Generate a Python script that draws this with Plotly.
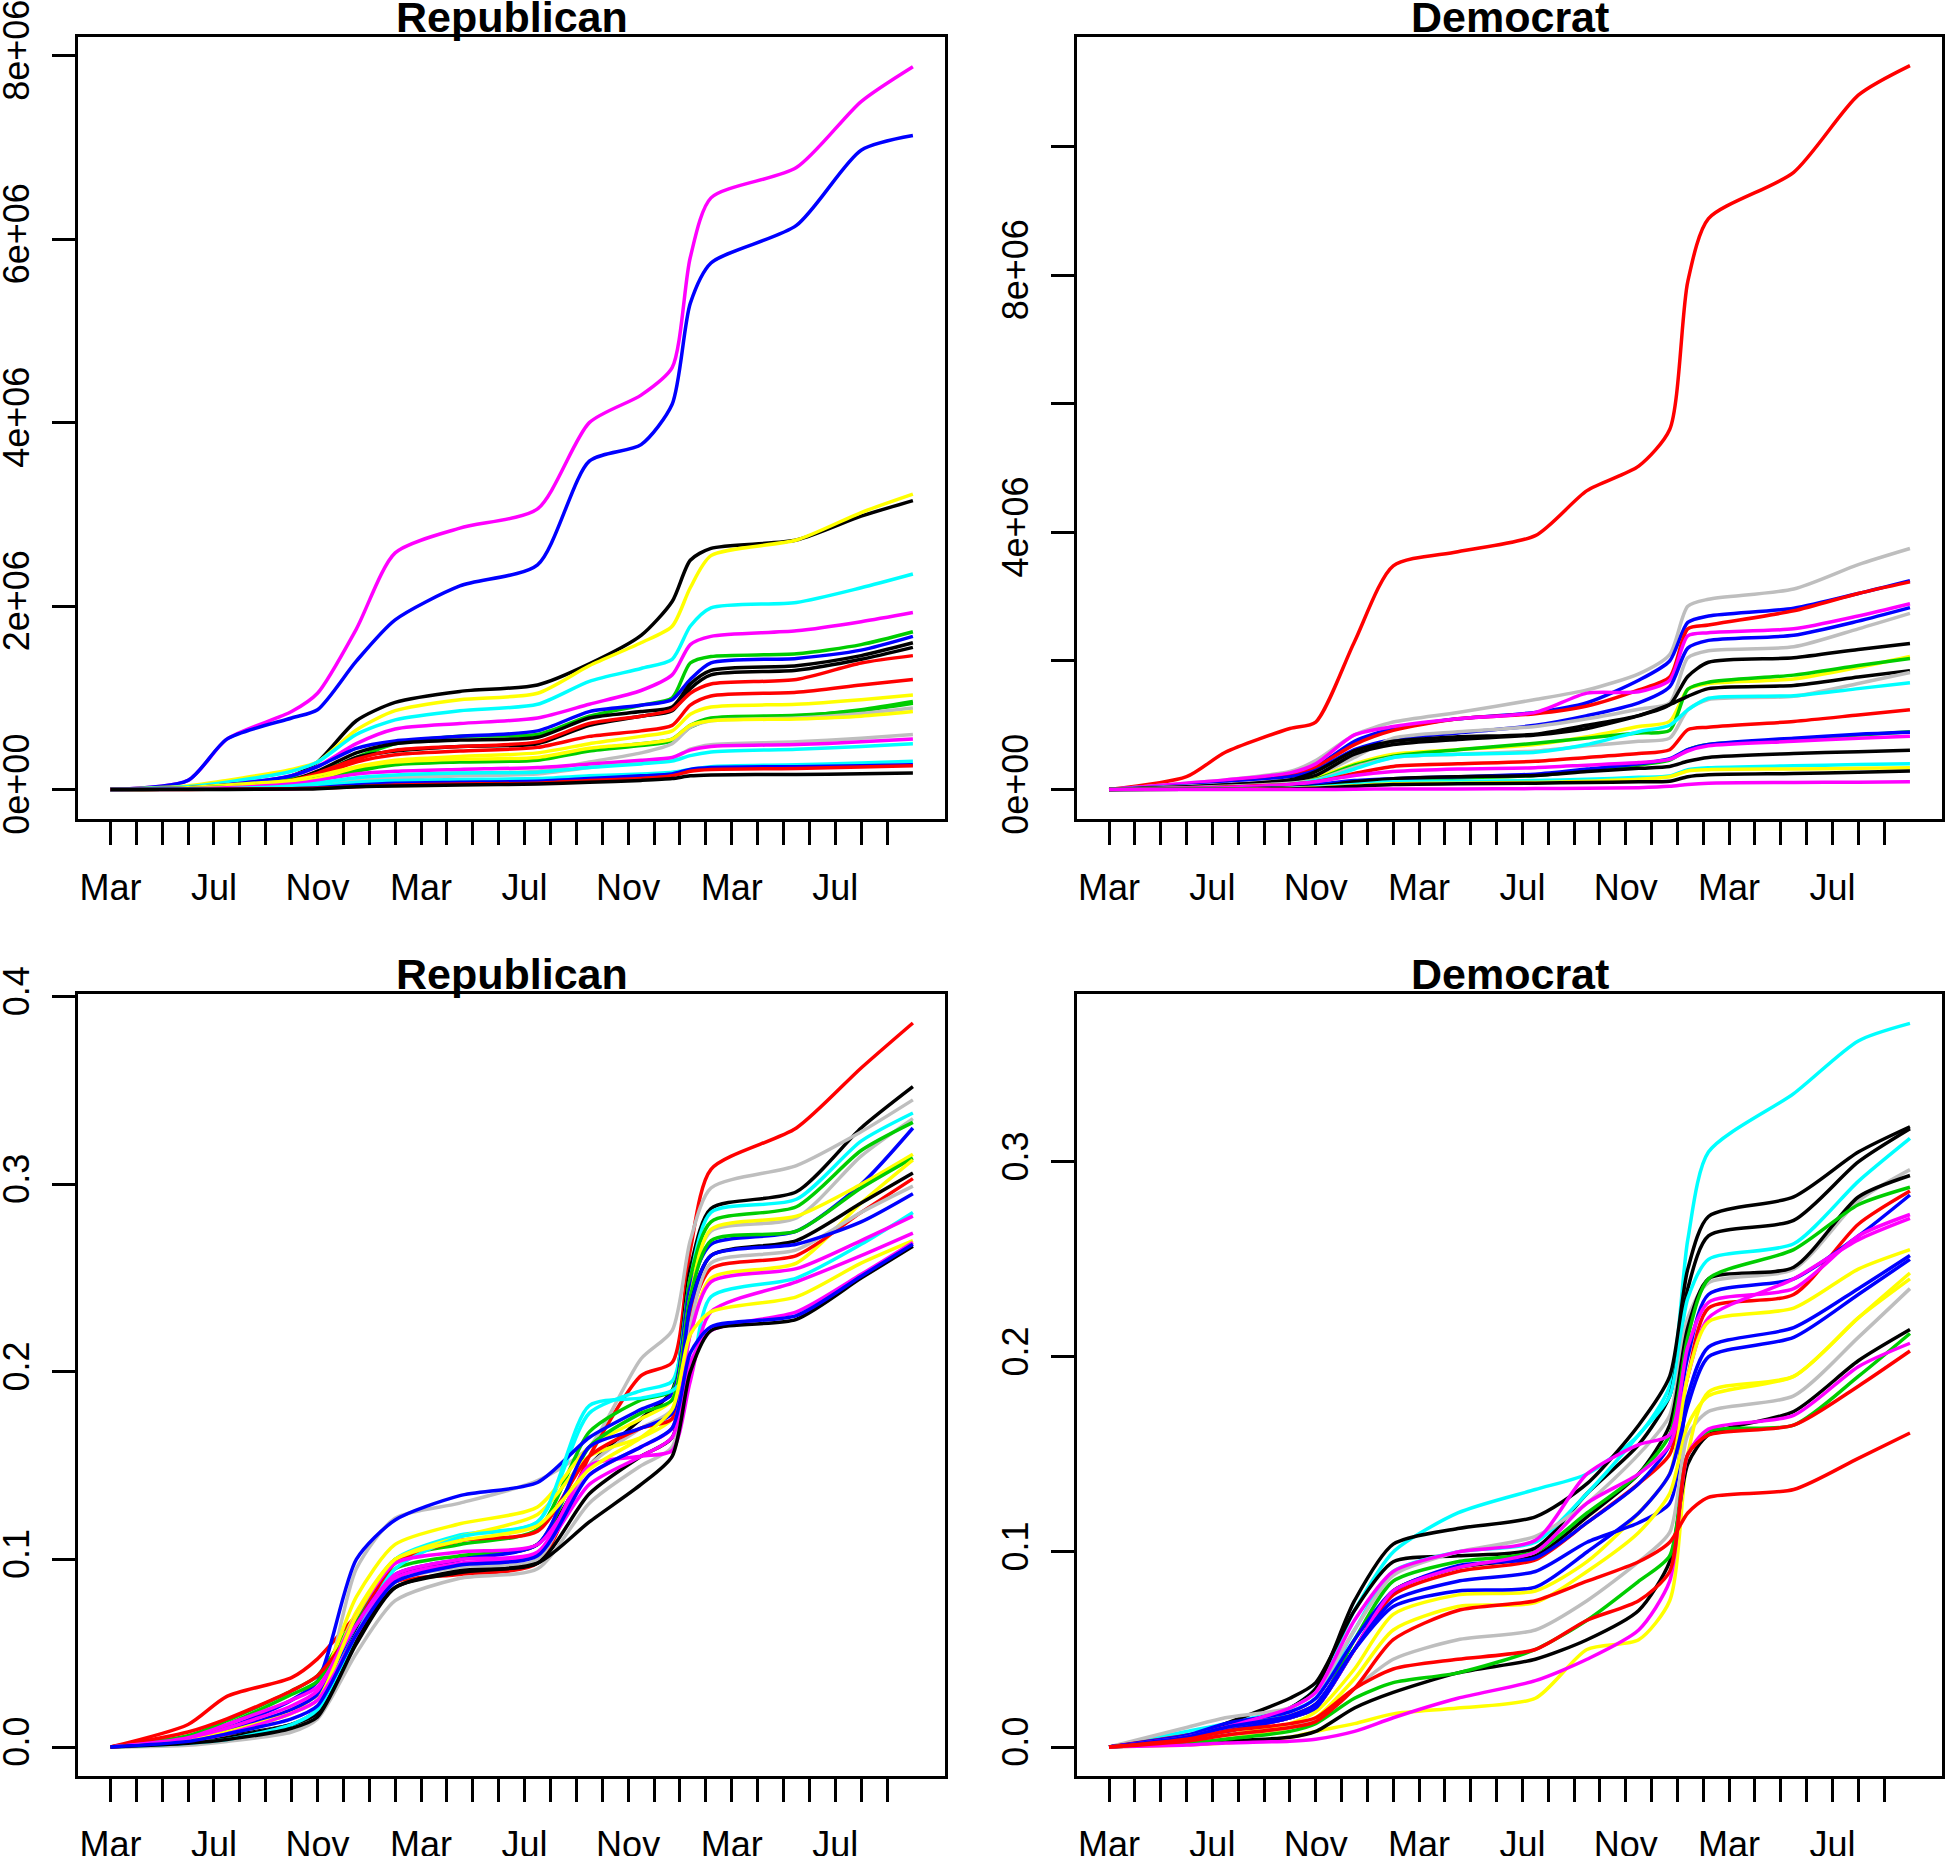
import plotly.graph_objects as go

# ---------------- data ----------------
# knot months counted from 1 March of year 1 (0 = Mar, 4 = Jul, 8 = Nov, ...)
months = [0, 3, 4.5, 7, 8, 9.5, 11, 13.5, 16.5, 18.5, 20.5, 21.7, 22.4, 23.2, 26.5, 29, 31]
tick_months = list(range(31))
tick_names = ["Mar", "", "", "", "Jul", "", "", "", "Nov", "", "", "",
              "Mar", "", "", "", "Jul", "", "", "", "Nov", "", "", "",
              "Mar", "", "", "", "Jul", "", ""]

K, R, G, B, C, M, Y, GR = ("#000000", "#FF0000", "#00CD00", "#0000FF",
                           "#00FFFF", "#FF00FF", "#FFFF00", "#BEBEBE")

# Republican cumulative amounts (millions)
rep_amount_colors = [M, B, K, Y, C, M, G, B, K, K, R, R, Y, G, G, GR, Y, GR, M, C, C, B, R, K]
rep_amount_millions = [
    [0, 0.10, 0.55, 0.85, 1.05, 1.75, 2.58, 2.85, 3.06, 4.00, 4.30, 4.60, 5.80, 6.45, 6.78, 7.50, 7.88],
    [0, 0.10, 0.55, 0.78, 0.87, 1.40, 1.85, 2.22, 2.45, 3.58, 3.76, 4.20, 5.30, 5.74, 6.15, 6.97, 7.13],
    [0, 0.02, 0.05, 0.15, 0.30, 0.75, 0.95, 1.07, 1.14, 1.37, 1.68, 2.05, 2.50, 2.63, 2.72, 2.98, 3.15],
    [0, 0.04, 0.10, 0.22, 0.30, 0.65, 0.86, 0.98, 1.05, 1.35, 1.60, 1.78, 2.20, 2.55, 2.72, 3.02, 3.22],
    [0, 0.03, 0.08, 0.20, 0.30, 0.60, 0.76, 0.86, 0.93, 1.18, 1.32, 1.42, 1.78, 1.98, 2.04, 2.20, 2.35],
    [0, 0.02, 0.05, 0.15, 0.25, 0.50, 0.66, 0.72, 0.78, 0.93, 1.08, 1.25, 1.58, 1.67, 1.73, 1.83, 1.93],
    [0, 0.02, 0.05, 0.12, 0.18, 0.35, 0.50, 0.58, 0.60, 0.80, 0.92, 1.00, 1.38, 1.45, 1.48, 1.58, 1.72],
    [0, 0.02, 0.05, 0.15, 0.25, 0.45, 0.53, 0.58, 0.64, 0.85, 0.92, 0.98, 1.20, 1.38, 1.43, 1.52, 1.67],
    [0, 0.01, 0.03, 0.10, 0.20, 0.40, 0.50, 0.54, 0.57, 0.78, 0.85, 0.90, 1.15, 1.30, 1.35, 1.46, 1.60],
    [0, 0.01, 0.02, 0.08, 0.15, 0.35, 0.42, 0.47, 0.50, 0.70, 0.80, 0.86, 1.10, 1.25, 1.30, 1.42, 1.55],
    [0, 0.01, 0.03, 0.10, 0.18, 0.33, 0.43, 0.47, 0.52, 0.72, 0.80, 0.87, 1.05, 1.15, 1.20, 1.38, 1.46],
    [0, 0.01, 0.02, 0.08, 0.15, 0.30, 0.38, 0.42, 0.46, 0.58, 0.64, 0.70, 0.92, 1.02, 1.06, 1.14, 1.20],
    [0, 0.02, 0.05, 0.10, 0.15, 0.25, 0.32, 0.36, 0.40, 0.50, 0.58, 0.64, 0.82, 0.90, 0.93, 0.98, 1.03],
    [0, 0.01, 0.03, 0.07, 0.12, 0.22, 0.28, 0.32, 0.34, 0.44, 0.50, 0.55, 0.70, 0.78, 0.81, 0.86, 0.94],
    [0, 0.01, 0.02, 0.06, 0.10, 0.20, 0.27, 0.30, 0.32, 0.42, 0.48, 0.53, 0.68, 0.76, 0.80, 0.87, 0.96],
    [0, 0.005, 0.01, 0.03, 0.05, 0.10, 0.15, 0.18, 0.20, 0.30, 0.40, 0.50, 0.68, 0.75, 0.78, 0.83, 0.89],
    [0, 0.01, 0.03, 0.08, 0.12, 0.24, 0.30, 0.33, 0.35, 0.45, 0.50, 0.55, 0.70, 0.75, 0.77, 0.80, 0.85],
    [0, 0.005, 0.01, 0.02, 0.04, 0.08, 0.12, 0.15, 0.17, 0.24, 0.30, 0.34, 0.44, 0.49, 0.52, 0.56, 0.60],
    [0, 0.01, 0.02, 0.06, 0.10, 0.17, 0.20, 0.22, 0.24, 0.28, 0.32, 0.35, 0.43, 0.47, 0.49, 0.52, 0.55],
    [0, 0.005, 0.01, 0.04, 0.07, 0.13, 0.16, 0.18, 0.19, 0.24, 0.28, 0.31, 0.37, 0.41, 0.44, 0.47, 0.50],
    [0, 0.003, 0.01, 0.02, 0.04, 0.08, 0.10, 0.11, 0.12, 0.15, 0.17, 0.19, 0.22, 0.25, 0.27, 0.29, 0.31],
    [0, 0.003, 0.005, 0.01, 0.02, 0.05, 0.07, 0.08, 0.09, 0.12, 0.15, 0.17, 0.22, 0.24, 0.25, 0.26, 0.27],
    [0, 0.002, 0.004, 0.008, 0.015, 0.03, 0.05, 0.06, 0.07, 0.10, 0.12, 0.15, 0.20, 0.22, 0.23, 0.245, 0.26],
    [0, 0.0, 0.002, 0.005, 0.01, 0.03, 0.04, 0.05, 0.06, 0.08, 0.10, 0.12, 0.15, 0.16, 0.165, 0.172, 0.18],
]

# Democrat cumulative amounts (millions)
dem_amount_colors = [R, GR, B, R, M, B, GR, K, Y, G, K, GR, C, R, G, B, M, K, C, Y, K, M]
dem_amount_millions = [
    [0, 0.20, 0.58, 0.95, 1.05, 2.30, 3.48, 3.70, 3.95, 4.65, 5.03, 5.60, 7.90, 8.88, 9.60, 10.80, 11.26],
    [0, 0.10, 0.15, 0.28, 0.45, 0.85, 1.05, 1.20, 1.40, 1.55, 1.80, 2.10, 2.85, 2.96, 3.12, 3.50, 3.75],
    [0, 0.08, 0.12, 0.22, 0.35, 0.75, 0.95, 1.10, 1.20, 1.35, 1.70, 2.00, 2.60, 2.70, 2.82, 3.05, 3.25],
    [0, 0.08, 0.12, 0.22, 0.35, 0.70, 0.92, 1.10, 1.18, 1.30, 1.55, 1.75, 2.50, 2.56, 2.78, 3.05, 3.23],
    [0, 0.10, 0.15, 0.26, 0.40, 0.85, 0.98, 1.10, 1.20, 1.50, 1.52, 1.70, 2.39, 2.44, 2.50, 2.70, 2.89],
    [0, 0.06, 0.10, 0.20, 0.30, 0.62, 0.78, 0.88, 1.00, 1.15, 1.35, 1.60, 2.20, 2.32, 2.40, 2.62, 2.83],
    [0, 0.05, 0.08, 0.15, 0.22, 0.50, 0.80, 0.90, 0.98, 1.10, 1.25, 1.35, 2.05, 2.16, 2.22, 2.50, 2.74],
    [0, 0.04, 0.07, 0.15, 0.28, 0.60, 0.75, 0.82, 0.86, 1.00, 1.15, 1.32, 1.76, 1.98, 2.05, 2.18, 2.27],
    [0, 0.03, 0.05, 0.10, 0.18, 0.40, 0.55, 0.62, 0.70, 0.82, 0.98, 1.06, 1.56, 1.65, 1.72, 1.90, 2.07],
    [0, 0.03, 0.05, 0.10, 0.16, 0.38, 0.52, 0.62, 0.72, 0.80, 0.88, 0.92, 1.56, 1.67, 1.78, 1.93, 2.04],
    [0, 0.04, 0.07, 0.14, 0.22, 0.55, 0.70, 0.78, 0.85, 0.95, 1.15, 1.32, 1.45, 1.57, 1.62, 1.75, 1.85],
    [0, 0.03, 0.05, 0.10, 0.15, 0.35, 0.50, 0.55, 0.60, 0.68, 0.75, 0.80, 1.24, 1.40, 1.45, 1.65, 1.82],
    [0, 0.02, 0.04, 0.08, 0.14, 0.32, 0.50, 0.55, 0.58, 0.70, 0.90, 1.00, 1.24, 1.42, 1.46, 1.57, 1.66],
    [0, 0.02, 0.04, 0.08, 0.12, 0.25, 0.36, 0.40, 0.44, 0.50, 0.56, 0.62, 0.93, 0.97, 1.06, 1.16, 1.24],
    [0, 0.01, 0.02, 0.04, 0.07, 0.12, 0.14, 0.18, 0.22, 0.30, 0.38, 0.46, 0.62, 0.70, 0.78, 0.85, 0.90],
    [0, 0.01, 0.02, 0.05, 0.08, 0.14, 0.17, 0.20, 0.24, 0.32, 0.40, 0.48, 0.62, 0.70, 0.80, 0.86, 0.89],
    [0, 0.02, 0.03, 0.08, 0.12, 0.22, 0.28, 0.32, 0.34, 0.38, 0.42, 0.47, 0.60, 0.68, 0.75, 0.80, 0.83],
    [0, 0.005, 0.01, 0.03, 0.05, 0.12, 0.17, 0.20, 0.22, 0.28, 0.33, 0.36, 0.44, 0.50, 0.56, 0.59, 0.61],
    [0, 0.005, 0.01, 0.02, 0.04, 0.08, 0.12, 0.13, 0.14, 0.16, 0.19, 0.21, 0.31, 0.34, 0.37, 0.39, 0.40],
    [0, 0.003, 0.006, 0.015, 0.03, 0.06, 0.09, 0.10, 0.11, 0.13, 0.16, 0.20, 0.29, 0.31, 0.32, 0.33, 0.34],
    [0, 0.003, 0.005, 0.01, 0.02, 0.05, 0.08, 0.09, 0.10, 0.11, 0.12, 0.13, 0.20, 0.23, 0.25, 0.27, 0.29],
    [0, 0.0, 0.0, 0.0, 0.0, 0.005, 0.01, 0.01, 0.015, 0.02, 0.03, 0.05, 0.08, 0.10, 0.11, 0.115, 0.12],
]

# Republican cumulative share
rep_share_colors = [R, K, GR, C, GR, G, B, Y, G, Y, K, R, GR, B, C, M, M, Y, M, K, B]
rep_share = [
    [0, 0.012, 0.027, 0.037, 0.047, 0.070, 0.088, 0.092, 0.098, 0.155, 0.198, 0.205, 0.265, 0.308, 0.330, 0.362, 0.386],
    [0, 0.003, 0.006, 0.012, 0.020, 0.062, 0.090, 0.100, 0.108, 0.150, 0.175, 0.190, 0.255, 0.287, 0.296, 0.330, 0.352],
    [0, 0.002, 0.005, 0.010, 0.020, 0.095, 0.122, 0.130, 0.142, 0.160, 0.207, 0.222, 0.270, 0.298, 0.310, 0.328, 0.345],
    [0, 0.003, 0.008, 0.020, 0.028, 0.065, 0.100, 0.113, 0.120, 0.178, 0.190, 0.195, 0.250, 0.285, 0.292, 0.323, 0.338],
    [0, 0.002, 0.005, 0.012, 0.020, 0.058, 0.088, 0.096, 0.100, 0.150, 0.170, 0.180, 0.245, 0.275, 0.282, 0.315, 0.335],
    [0, 0.006, 0.014, 0.030, 0.038, 0.070, 0.100, 0.108, 0.116, 0.168, 0.185, 0.190, 0.250, 0.280, 0.288, 0.318, 0.333],
    [0, 0.004, 0.010, 0.025, 0.035, 0.100, 0.121, 0.134, 0.141, 0.165, 0.180, 0.188, 0.245, 0.268, 0.275, 0.300, 0.330],
    [0, 0.003, 0.008, 0.018, 0.030, 0.080, 0.108, 0.119, 0.128, 0.160, 0.175, 0.185, 0.240, 0.276, 0.283, 0.300, 0.316],
    [0, 0.005, 0.012, 0.028, 0.035, 0.068, 0.095, 0.102, 0.108, 0.160, 0.178, 0.185, 0.240, 0.270, 0.275, 0.298, 0.314],
    [0, 0.004, 0.009, 0.020, 0.028, 0.072, 0.100, 0.112, 0.124, 0.155, 0.165, 0.175, 0.220, 0.250, 0.258, 0.290, 0.313],
    [0, 0.002, 0.005, 0.012, 0.018, 0.058, 0.085, 0.094, 0.098, 0.135, 0.155, 0.165, 0.235, 0.262, 0.270, 0.290, 0.306],
    [0, 0.008, 0.015, 0.030, 0.038, 0.065, 0.098, 0.110, 0.115, 0.155, 0.170, 0.175, 0.230, 0.255, 0.262, 0.285, 0.303],
    [0, 0.001, 0.003, 0.008, 0.015, 0.050, 0.078, 0.090, 0.095, 0.130, 0.150, 0.160, 0.225, 0.258, 0.265, 0.285, 0.299],
    [0, 0.004, 0.009, 0.020, 0.028, 0.065, 0.092, 0.100, 0.108, 0.160, 0.170, 0.178, 0.235, 0.262, 0.268, 0.280, 0.295],
    [0, 0.002, 0.004, 0.012, 0.020, 0.060, 0.095, 0.112, 0.120, 0.182, 0.186, 0.190, 0.200, 0.240, 0.250, 0.268, 0.285],
    [0, 0.004, 0.010, 0.022, 0.030, 0.070, 0.098, 0.104, 0.108, 0.145, 0.160, 0.170, 0.220, 0.248, 0.255, 0.270, 0.283],
    [0, 0.005, 0.012, 0.025, 0.032, 0.065, 0.092, 0.100, 0.104, 0.150, 0.155, 0.158, 0.195, 0.232, 0.248, 0.262, 0.274],
    [0, 0.003, 0.008, 0.018, 0.025, 0.070, 0.100, 0.110, 0.118, 0.148, 0.165, 0.180, 0.220, 0.232, 0.240, 0.258, 0.270],
    [0, 0.003, 0.007, 0.018, 0.025, 0.060, 0.090, 0.098, 0.103, 0.140, 0.155, 0.165, 0.205, 0.222, 0.232, 0.252, 0.269],
    [0, 0.002, 0.004, 0.010, 0.016, 0.055, 0.085, 0.093, 0.098, 0.120, 0.140, 0.155, 0.200, 0.222, 0.228, 0.250, 0.267],
    [0, 0.003, 0.007, 0.015, 0.022, 0.060, 0.088, 0.097, 0.102, 0.145, 0.160, 0.170, 0.210, 0.224, 0.230, 0.251, 0.268],
]

# Democrat cumulative share
dem_share_colors = [C, K, K, C, GR, K, G, R, B, M, M, Y, B, B, Y, GR, Y, K, G, M, R, R]
dem_share = [
    [0, 0.008, 0.012, 0.020, 0.030, 0.070, 0.100, 0.120, 0.132, 0.140, 0.160, 0.185, 0.260, 0.305, 0.335, 0.362, 0.371],
    [0, 0.005, 0.010, 0.020, 0.030, 0.075, 0.104, 0.112, 0.118, 0.135, 0.165, 0.190, 0.245, 0.272, 0.282, 0.305, 0.318],
    [0, 0.005, 0.012, 0.025, 0.033, 0.070, 0.095, 0.098, 0.102, 0.130, 0.155, 0.180, 0.235, 0.262, 0.270, 0.300, 0.317],
    [0, 0.006, 0.010, 0.018, 0.025, 0.060, 0.090, 0.100, 0.105, 0.130, 0.160, 0.180, 0.230, 0.250, 0.258, 0.290, 0.312],
    [0, 0.010, 0.015, 0.020, 0.028, 0.060, 0.088, 0.100, 0.108, 0.125, 0.150, 0.170, 0.220, 0.238, 0.245, 0.280, 0.296],
    [0, 0.004, 0.008, 0.015, 0.020, 0.050, 0.080, 0.092, 0.098, 0.118, 0.140, 0.165, 0.215, 0.240, 0.246, 0.282, 0.293],
    [0, 0.005, 0.010, 0.015, 0.020, 0.055, 0.085, 0.095, 0.100, 0.120, 0.140, 0.160, 0.210, 0.240, 0.255, 0.278, 0.287],
    [0, 0.006, 0.010, 0.016, 0.022, 0.050, 0.078, 0.090, 0.096, 0.115, 0.135, 0.150, 0.190, 0.225, 0.232, 0.268, 0.285],
    [0, 0.006, 0.012, 0.018, 0.025, 0.055, 0.080, 0.093, 0.097, 0.115, 0.135, 0.155, 0.200, 0.232, 0.240, 0.262, 0.283],
    [0, 0.005, 0.010, 0.020, 0.028, 0.065, 0.090, 0.100, 0.106, 0.140, 0.155, 0.160, 0.205, 0.228, 0.235, 0.262, 0.273],
    [0, 0.004, 0.008, 0.015, 0.020, 0.050, 0.080, 0.092, 0.100, 0.125, 0.140, 0.155, 0.190, 0.220, 0.240, 0.260, 0.271],
    [0, 0.003, 0.006, 0.012, 0.018, 0.040, 0.068, 0.078, 0.080, 0.095, 0.120, 0.140, 0.190, 0.218, 0.225, 0.245, 0.255],
    [0, 0.004, 0.008, 0.015, 0.020, 0.050, 0.075, 0.085, 0.090, 0.105, 0.115, 0.125, 0.180, 0.205, 0.215, 0.235, 0.252],
    [0, 0.005, 0.010, 0.016, 0.022, 0.050, 0.072, 0.080, 0.082, 0.100, 0.120, 0.140, 0.175, 0.200, 0.210, 0.232, 0.250],
    [0, 0.002, 0.004, 0.010, 0.015, 0.035, 0.060, 0.072, 0.074, 0.090, 0.110, 0.130, 0.165, 0.180, 0.190, 0.220, 0.243],
    [0, 0.003, 0.006, 0.010, 0.014, 0.030, 0.045, 0.055, 0.060, 0.075, 0.095, 0.110, 0.160, 0.172, 0.180, 0.210, 0.235],
    [0, 0.001, 0.002, 0.005, 0.008, 0.012, 0.017, 0.020, 0.025, 0.050, 0.055, 0.075, 0.150, 0.182, 0.190, 0.220, 0.240],
    [0, 0.002, 0.003, 0.005, 0.008, 0.020, 0.028, 0.038, 0.045, 0.055, 0.070, 0.095, 0.145, 0.160, 0.172, 0.198, 0.214],
    [0, 0.002, 0.004, 0.008, 0.012, 0.025, 0.033, 0.038, 0.050, 0.065, 0.085, 0.098, 0.150, 0.162, 0.165, 0.190, 0.212],
    [0, 0.001, 0.002, 0.003, 0.004, 0.008, 0.015, 0.025, 0.034, 0.045, 0.060, 0.085, 0.150, 0.163, 0.170, 0.195, 0.207],
    [0, 0.004, 0.008, 0.012, 0.015, 0.030, 0.040, 0.045, 0.050, 0.065, 0.075, 0.090, 0.150, 0.160, 0.165, 0.185, 0.203],
    [0, 0.003, 0.006, 0.010, 0.013, 0.030, 0.055, 0.070, 0.075, 0.085, 0.095, 0.105, 0.120, 0.128, 0.132, 0.148, 0.161],
]

# ---------------- figure ----------------
FONT = "Liberation Sans, Arial, Helvetica, sans-serif"
W, H = 1945, 1856

X_L = [78.3 / W, 945.0 / W]
X_R = [1077.0 / W, 1942.0 / W]
Y_T = [1 - 818.5 / H, 1 - 37.3 / H]
Y_B = [1 - 1776.0 / H, 1 - 993.6 / H]

panels = [
    # (series, colors, scale, xdom, ydom, yrange, tickvals, ticktext, title)
    (rep_amount_millions, rep_amount_colors, 1e6, X_L, Y_T, [-0.3154e6, 8.2004e6],
     [0, 2e6, 4e6, 6e6, 8e6], ["0e+00", "2e+06", "4e+06", "6e+06", "8e+06"], "Republican"),
    (dem_amount_millions, dem_amount_colors, 1e6, X_R, Y_T, [-0.450e6, 11.700e6],
     [0, 2e6, 4e6, 6e6, 8e6, 10e6], ["0e+00", "", "4e+06", "", "8e+06", ""], "Democrat"),
    (rep_share, rep_share_colors, 1.0, X_L, Y_B, [-0.01545, 0.40165],
     [0, 0.1, 0.2, 0.3, 0.4], ["0.0", "0.1", "0.2", "0.3", "0.4"], "Republican"),
    (dem_share, dem_share_colors, 1.0, X_R, Y_B, [-0.01486, 0.38626],
     [0, 0.1, 0.2, 0.3], ["0.0", "0.1", "0.2", "0.3"], "Democrat"),
]

fig = go.Figure()
layout = dict(
    width=W, height=H, autosize=False,
    margin=dict(l=0, r=0, t=0, b=0, pad=0, autoexpand=False),
    paper_bgcolor="white", plot_bgcolor="white",
    showlegend=False,
    font=dict(family=FONT, size=36, color="black"),
    annotations=[],
)

for i, (series, colors, scale, xd, yd, yr, tv, tt, title) in enumerate(panels, start=1):
    xa = "x" if i == 1 else f"x{i}"
    ya = "y" if i == 1 else f"y{i}"
    for vals, col in zip(series, colors):
        fig.add_trace(go.Scatter(
            x=months, y=[v * scale for v in vals], mode="lines",
            line=dict(color=col, width=3.5, shape="spline", smoothing=0.7),
            xaxis=xa, yaxis=ya, hoverinfo="skip", showlegend=False))
    axis_common = dict(showgrid=False, zeroline=False, showline=True, mirror=True,
                       linecolor="black", linewidth=3, ticks="outside", ticklen=23,
                       tickwidth=3, tickcolor="black", automargin=False,
                       ticklabeloverflow="allow",
                       tickfont=dict(family=FONT, size=36, color="black"))
    layout["xaxis" + ("" if i == 1 else str(i))] = dict(
        domain=xd, range=[-1.24, 32.24], anchor=ya,
        tickmode="array", tickvals=tick_months, ticktext=tick_names,
        ticklabelstandoff=12, **axis_common)
    layout["yaxis" + ("" if i == 1 else str(i))] = dict(
        domain=yd, range=yr, anchor=xa,
        tickmode="array", tickvals=tv, ticktext=tt, tickangle=-90,
        ticklabelstandoff=9, **axis_common)
    layout["annotations"].append(dict(
        text="<b>" + title + "</b>", xref="paper", yref="paper",
        x=(xd[0] + xd[1]) / 2, y=yd[1], xanchor="center", yanchor="middle",
        yshift=20, showarrow=False,
        font=dict(family=FONT, size=43, color="black")))

fig.update_layout(**layout)
fig.write_html("out.html", config={"displayModeBar": False},
               post_script="document.body.style.margin='0';")
